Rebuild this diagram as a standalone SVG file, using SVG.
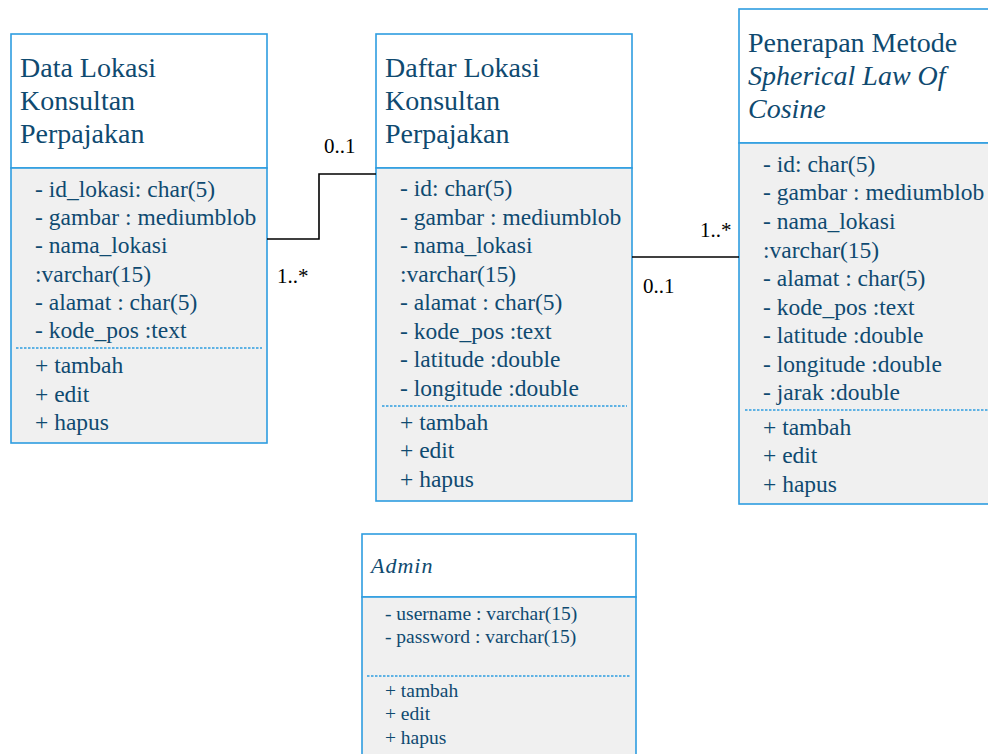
<svg xmlns="http://www.w3.org/2000/svg" width="988" height="754" viewBox="0 0 988 754">
  <defs>
    <style>
      .box { stroke: #2E9DE0; stroke-width: 1.6; }
      .head { fill: #FFFFFF; }
      .body { fill: #F0F0F0; }
      .sep { stroke: #2E9DE0; stroke-width: 1.5; stroke-dasharray: 2.5 1.5; fill: none; }
      .wire { stroke: #000000; stroke-width: 1.6; fill: none; }
    </style>
  </defs>

  <!-- Data Lokasi Konsultan Perpajakan -->
  <g id="data-lokasi">
    <rect class="box head" x="11" y="34" width="256" height="134"/>
    <rect class="box body" x="11" y="168" width="256" height="275"/>
    <g font-family="Liberation Serif" font-size="28" fill="#0F4A70">
      <text x="20" y="77">Data Lokasi</text>
      <text x="20" y="110">Konsultan</text>
      <text x="20" y="143">Perpajakan</text>
    </g>
    <g font-family="Liberation Serif" font-size="23.5" fill="#0F4A70">
      <text x="35" y="197">- id_lokasi: char(5)</text>
      <text x="35" y="225">- gambar : mediumblob</text>
      <text x="35" y="253">- nama_lokasi</text>
      <text x="35" y="282">:varchar(15)</text>
      <text x="35" y="310">- alamat : char(5)</text>
      <text x="35" y="338">- kode_pos :text</text>
      <text x="35" y="373">+ tambah</text>
      <text x="35" y="402">+ edit</text>
      <text x="35" y="430">+ hapus</text>
    </g>
    <line class="sep" x1="16" y1="348" x2="262" y2="348"/>
  </g>

  <!-- Daftar Lokasi Konsultan Perpajakan -->
  <g id="daftar-lokasi">
    <rect class="box head" x="376" y="34" width="256" height="134"/>
    <rect class="box body" x="376" y="168" width="256" height="333"/>
    <g font-family="Liberation Serif" font-size="28" fill="#0F4A70">
      <text x="385" y="77">Daftar Lokasi</text>
      <text x="385" y="110">Konsultan</text>
      <text x="385" y="143">Perpajakan</text>
    </g>
    <g font-family="Liberation Serif" font-size="23.5" fill="#0F4A70">
      <text x="400" y="196">- id: char(5)</text>
      <text x="400" y="225">- gambar : mediumblob</text>
      <text x="400" y="253">- nama_lokasi</text>
      <text x="400" y="282">:varchar(15)</text>
      <text x="400" y="310">- alamat : char(5)</text>
      <text x="400" y="339">- kode_pos :text</text>
      <text x="400" y="367">- latitude :double</text>
      <text x="400" y="396">- longitude :double</text>
      <text x="400" y="430">+ tambah</text>
      <text x="400" y="458">+ edit</text>
      <text x="400" y="487">+ hapus</text>
    </g>
    <line class="sep" x1="382" y1="406" x2="627" y2="406"/>
  </g>

  <!-- Penerapan Metode Spherical Law Of Cosine -->
  <g id="penerapan-metode">
    <rect class="box head" x="739" y="9" width="260" height="134"/>
    <rect class="box body" x="739" y="143" width="260" height="361"/>
    <g font-family="Liberation Serif" font-size="28" fill="#0F4A70">
      <text x="748" y="52">Penerapan Metode</text>
      <text x="748" y="85" font-style="italic">Spherical Law Of</text>
      <text x="748" y="118" font-style="italic">Cosine</text>
    </g>
    <g font-family="Liberation Serif" font-size="23.5" fill="#0F4A70">
      <text x="763" y="172">- id: char(5)</text>
      <text x="763" y="200">- gambar : mediumblob</text>
      <text x="763" y="229">- nama_lokasi</text>
      <text x="763" y="258">:varchar(15)</text>
      <text x="763" y="286">- alamat : char(5)</text>
      <text x="763" y="315">- kode_pos :text</text>
      <text x="763" y="343">- latitude :double</text>
      <text x="763" y="372">- longitude :double</text>
      <text x="763" y="400">- jarak :double</text>
      <text x="763" y="435">+ tambah</text>
      <text x="763" y="463">+ edit</text>
      <text x="763" y="492">+ hapus</text>
    </g>
    <line class="sep" x1="745" y1="410" x2="988" y2="410"/>
  </g>

  <!-- Admin -->
  <g id="admin">
    <rect class="box head" x="362" y="534" width="274" height="63"/>
    <rect class="box body" x="362" y="597" width="274" height="170"/>
    <text x="371" y="573" font-family="Liberation Serif" font-size="22" font-style="italic" letter-spacing="1" fill="#0F4A70">Admin</text>
    <g font-family="Liberation Serif" font-size="19.5" fill="#0F4A70">
      <text x="385" y="620">- username : varchar(15)</text>
      <text x="385" y="643">- password : varchar(15)</text>
      <text x="385" y="697">+ tambah</text>
      <text x="385" y="720">+ edit</text>
      <text x="385" y="744">+ hapus</text>
    </g>
    <line class="sep" x1="367" y1="676" x2="630" y2="676"/>
  </g>

  <!-- Associations -->
  <g id="connectors">
    <polyline class="wire" points="267,239 319,239 319,174 376,174"/>
    <line class="wire" x1="632" y1="257" x2="739" y2="257"/>
    <g font-family="Liberation Serif" font-size="21" fill="#000000">
      <text x="324" y="153">0..1</text>
      <text x="277" y="283">1..*</text>
      <text x="700" y="237">1..*</text>
      <text x="643" y="293">0..1</text>
    </g>
  </g>
</svg>
